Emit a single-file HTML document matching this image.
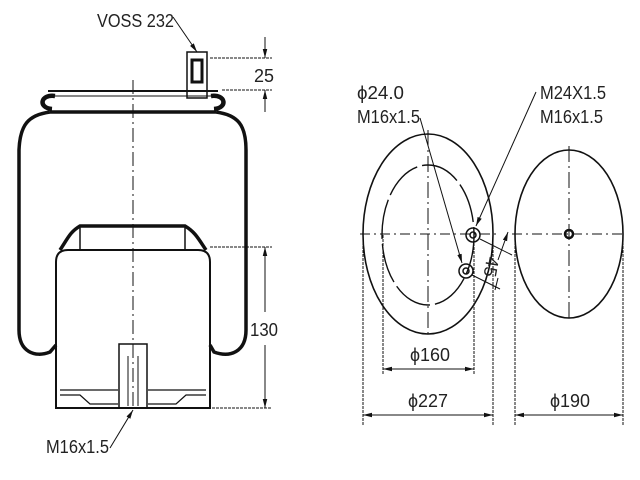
<!DOCTYPE html>
<html><head><style>html,body{margin:0;padding:0;background:#fff}svg{display:block}text{font-family:"Liberation Sans",sans-serif;fill:#222}</style></head>
<body>
<svg width="640" height="480" viewBox="0 0 640 480" xmlns="http://www.w3.org/2000/svg">
<defs><marker id="a" viewBox="0 0 10 10" refX="10" refY="5" markerWidth="9" markerHeight="9" orient="auto-start-reverse"><path d="M0,2.5 L10,5 L0,7.5z" fill="#111"/></marker></defs>
<g fill="none" stroke="#111">
<line x1="133" y1="80" x2="133" y2="410" stroke-dasharray="14,4,2,4" stroke-width="1"/>
<line x1="48" y1="91" x2="218" y2="91" stroke-width="2"/>
<line x1="52" y1="96" x2="214" y2="96" stroke-width="1"/>
<path d="M55,96 C40,94 38,108 52,109 M211,96 C226,94 228,108 214,109" stroke-width="4.5"/>
<rect x="187" y="52" width="20" height="46" stroke-width="1.5"/>
<rect x="192" y="60" width="10" height="22" stroke-width="3"/>
<path d="M50,112 L216,112 M50,112 C28,115 20,125 19,150 L19,330 C19,352 35,358 50,352 L56,345 M216,112 C238,115 246,125 246,150 L246,330 C246,352 230,358 214,352 L210,345" stroke-width="3.5"/>
<path d="M56,400 L56,262 Q56,250 68,250 L198,250 Q210,250 210,262 L210,408 L56,408 Z" stroke-width="2"/>
<path d="M60,250 C68,238 70,232 80,226 L185,226 C195,232 198,238 206,250" stroke-width="3.5"/>
<line x1="80" y1="226" x2="80" y2="250" stroke-width="1.5"/><line x1="185" y1="226" x2="185" y2="250" stroke-width="1.5"/>
<rect x="119" y="344" width="28" height="64" stroke-width="1.5"/>
<line x1="128" y1="356" x2="128" y2="406"/><line x1="138" y1="356" x2="138" y2="406"/>
<path d="M60,390 L118,390 M148,390 L206,390 M60,395 L80,395 L90,404 L118,404 M206,395 L186,395 L176,404 L148,404" stroke-width="1.2"/>
<g stroke-width="1" stroke-dasharray="3,1">
<line x1="210" y1="58" x2="272" y2="58"/><line x1="222" y1="90" x2="272" y2="90"/>
<line x1="210" y1="247" x2="272" y2="247"/><line x1="212" y1="408" x2="272" y2="408"/>
</g>
<line x1="265" y1="37" x2="265" y2="58" marker-end="url(#a)"/>
<line x1="265" y1="112" x2="265" y2="90" marker-end="url(#a)"/>
<line x1="265" y1="247" x2="265" y2="312" marker-start="url(#a)"/>
<line x1="265" y1="345" x2="265" y2="408" marker-end="url(#a)"/>
<line x1="173" y1="17" x2="197" y2="52" marker-end="url(#a)"/>
<line x1="110" y1="448" x2="133" y2="410" marker-end="url(#a)"/>
<ellipse cx="428" cy="234" rx="65" ry="100" stroke-width="1.6"/>
<ellipse cx="428" cy="235" rx="46" ry="70" stroke-width="1.4" stroke-dasharray="40,5"/>
<line x1="360" y1="234" x2="497" y2="234" stroke-dasharray="10,4,2,4"/>
<line x1="428" y1="130" x2="428" y2="338" stroke-dasharray="16,4,2,4"/>
<circle cx="473" cy="235" r="7" stroke-width="1.5"/><circle cx="473" cy="235" r="3" stroke-width="1.5"/>
<circle cx="466" cy="271" r="7" stroke-width="1.5"/><circle cx="466" cy="271" r="3" stroke-width="1.5"/>
<ellipse cx="569" cy="234" rx="54" ry="84" stroke-width="1.6"/>
<line x1="512" y1="234" x2="626" y2="234" stroke-dasharray="10,4,2,4"/>
<line x1="569" y1="146" x2="569" y2="322" stroke-dasharray="16,4,2,4"/>
<circle cx="569" cy="234" r="4" stroke-width="2.5"/>
<line x1="420" y1="118" x2="462" y2="263" marker-end="url(#a)"/>
<line x1="536" y1="92" x2="476" y2="226" marker-end="url(#a)"/>
<line x1="480" y1="239" x2="512" y2="255"/><line x1="472" y1="275" x2="500" y2="289"/>
<line x1="508" y1="232" x2="498" y2="260" marker-start="url(#a)"/>
<line x1="498" y1="278" x2="495" y2="290"/>
<g stroke-width="1" stroke-dasharray="3,1">
<line x1="363" y1="234" x2="363" y2="425"/><line x1="493" y1="234" x2="493" y2="425"/>
<line x1="383" y1="235" x2="383" y2="375"/><line x1="474" y1="235" x2="474" y2="375"/>
<line x1="515" y1="234" x2="515" y2="425"/><line x1="623" y1="234" x2="623" y2="425"/>
</g>
<line x1="383" y1="369" x2="474" y2="369" marker-start="url(#a)" marker-end="url(#a)"/>
<line x1="363" y1="415" x2="493" y2="415" marker-start="url(#a)" marker-end="url(#a)"/>
<line x1="515" y1="415" x2="623" y2="415" marker-start="url(#a)" marker-end="url(#a)"/>
</g>
<g font-size="18">
<text x="97" y="27" textLength="77" lengthAdjust="spacingAndGlyphs">VOSS 232</text>
<text x="254" y="82" textLength="20" lengthAdjust="spacingAndGlyphs">25</text>
<text x="250" y="336" textLength="28" lengthAdjust="spacingAndGlyphs">130</text>
<text x="46" y="453" textLength="63" lengthAdjust="spacingAndGlyphs">M16x1.5</text>
<text x="357" y="99" textLength="47" lengthAdjust="spacingAndGlyphs">ϕ24.0</text>
<text x="357" y="123" textLength="63" lengthAdjust="spacingAndGlyphs">M16x1.5</text>
<text x="540" y="99" textLength="66" lengthAdjust="spacingAndGlyphs">M24X1.5</text>
<text x="540" y="123" textLength="63" lengthAdjust="spacingAndGlyphs">M16x1.5</text>
<text x="410" y="361" textLength="40" lengthAdjust="spacingAndGlyphs">ϕ160</text>
<text x="408" y="407" textLength="40" lengthAdjust="spacingAndGlyphs">ϕ227</text>
<text x="550" y="407" textLength="40" lengthAdjust="spacingAndGlyphs">ϕ190</text>
<text x="0" y="0" transform="translate(487,256) rotate(100)">45</text>
</g>
</svg>
</body></html>
